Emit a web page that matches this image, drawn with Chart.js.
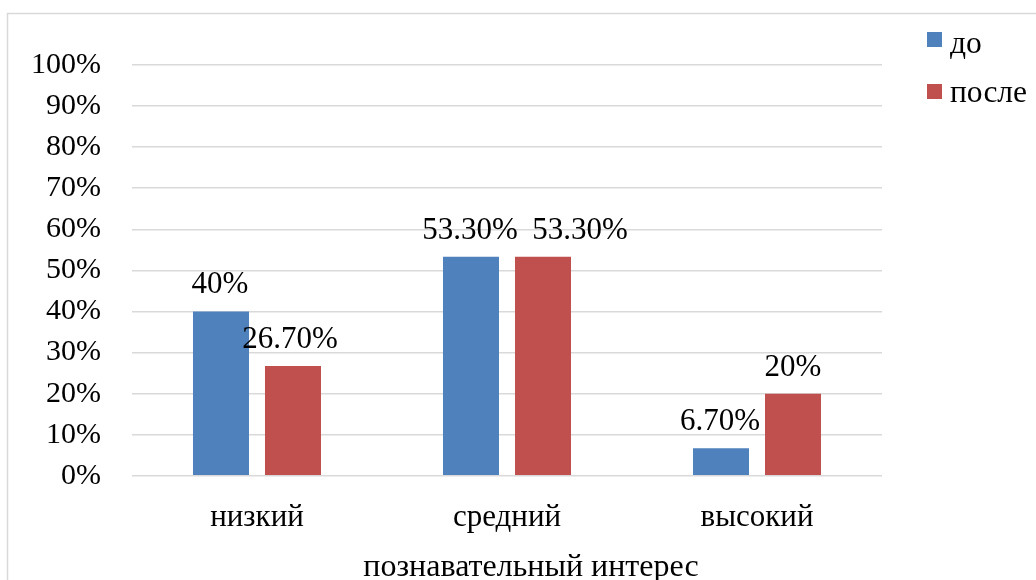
<!DOCTYPE html>
<html><head><meta charset="utf-8">
<script src="https://cdn.jsdelivr.net/npm/chart.js@4.4.1/dist/chart.umd.min.js"></script>
<style>html,body{margin:0;padding:0;background:#fff;overflow:hidden;}</style>
</head><body>
<canvas id="c" width="1036" height="580"></canvas>
<script>
const categories = ['низкий', 'средний', 'высокий'];
const seriesNames = ['до', 'после'];
const beforeValues = [40, 53.3, 6.7];
const afterValues = [26.7, 53.3, 20];
const beforeLabels = ['40%', '53.30%', '6.70%'];
const afterLabels = ['26.70%', '53.30%', '20%'];
const yTickValues = [0, 10, 20, 30, 40, 50, 60, 70, 80, 90, 100];
const axisTitle = 'познавательный интерес';
const colors = ['#4f81bd', '#c0504d'];

const FONT = 'Liberation Serif, Times New Roman, serif';
// manual label nudges (pixels), as placed in the original chart
const labelNudgeX = [[-1, -1, -1], [-3, 37, 0]];

const framePlugin = {
  id: 'frame',
  beforeDraw(chart) {
    const ctx = chart.ctx;
    ctx.save();
    ctx.fillStyle = '#fff';
    ctx.fillRect(0, 0, chart.width, chart.height);
    ctx.strokeStyle = '#d9d9d9';
    ctx.lineWidth = 1.5;
    ctx.strokeRect(7.5, 13.5, 2000, 2000);
    ctx.restore();
  }
};

const labelsPlugin = {
  id: 'barLabels',
  afterDatasetsDraw(chart) {
    const ctx = chart.ctx;
    const texts = [beforeLabels, afterLabels];
    ctx.save();
    ctx.font = '31px ' + FONT;
    ctx.fillStyle = '#000';
    ctx.textAlign = 'center';
    ctx.textBaseline = 'alphabetic';
    chart.data.datasets.forEach((ds, i) => {
      chart.getDatasetMeta(i).data.forEach((bar, j) => {
        ctx.fillText(texts[i][j], bar.x + labelNudgeX[i][j], bar.y - 18);
      });
    });
    ctx.restore();
  }
};

const legendPlugin = {
  id: 'customLegend',
  afterDraw(chart) {
    const ctx = chart.ctx;
    ctx.save();
    ctx.font = '31.5px ' + FONT;
    ctx.textAlign = 'left';
    ctx.textBaseline = 'alphabetic';
    const rows = [{box: 32, base: 53}, {box: 84, base: 101.5}];
    chart.data.datasets.forEach((ds, i) => {
      ctx.fillStyle = ds.backgroundColor;
      ctx.fillRect(927, rows[i].box, 15, 15);
      ctx.fillStyle = '#000';
      ctx.fillText(ds.label, 950, rows[i].base);
    });
    ctx.restore();
  }
};

const titlePlugin = {
  id: 'axisTitle',
  afterDraw(chart) {
    const ctx = chart.ctx;
    ctx.save();
    ctx.font = '32px ' + FONT;
    ctx.fillStyle = '#000';
    ctx.textAlign = 'center';
    ctx.textBaseline = 'alphabetic';
    ctx.fillText(axisTitle, 531, 576);
    ctx.restore();
  }
};

new Chart(document.getElementById('c'), {
  type: 'bar',
  data: {
    labels: categories,
    datasets: [
      {label: seriesNames[0], data: beforeValues, backgroundColor: colors[0], borderWidth: 0},
      {label: seriesNames[1], data: afterValues, backgroundColor: colors[1], borderWidth: 0}
    ]
  },
  options: {
    responsive: false,
    animation: false,
    devicePixelRatio: 1,
    categoryPercentage: 0.576,
    barPercentage: 0.778,
    layout: {padding: {left: 0, right: 154, top: 65, bottom: 29}},
    plugins: {legend: {display: false}, tooltip: {enabled: false}, title: {display: false}},
    scales: {
      x: {
        grid: {display: false},
        border: {display: false},
        ticks: {color: '#000', font: {family: FONT, size: 31}, padding: 15}
      },
      y: {
        min: 0, max: 100,
        afterBuildTicks(scale) { scale.ticks = yTickValues.map(v => ({value: v})); },
        grid: {color: '#d9d9d9', lineWidth: 1.5, drawTicks: false},
        border: {display: false},
        ticks: {color: '#000', font: {family: FONT, size: 30}, padding: 31, autoSkip: false, callback: v => v + '%'}
      }
    }
  },
  plugins: [framePlugin, labelsPlugin, legendPlugin, titlePlugin]
});
</script>
</body></html>
